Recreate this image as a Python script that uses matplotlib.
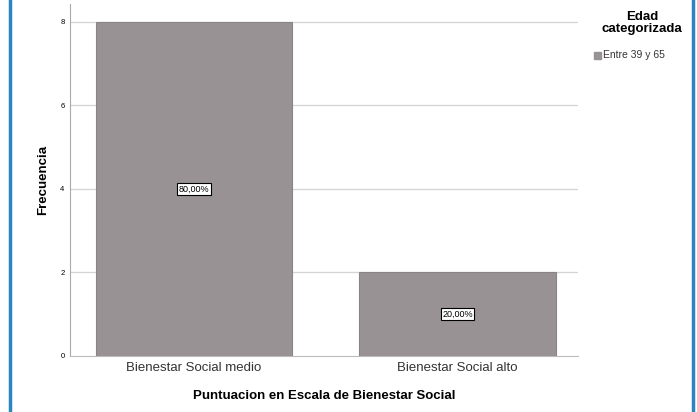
import matplotlib.pyplot as plt
from matplotlib.patches import Rectangle
from matplotlib.lines import Line2D

plt.rcParams['font.family'] = ['Liberation Sans', 'DejaVu Sans']

# Data
categories = ["Bienestar Social medio", "Bienestar Social alto"]
frecuencia = [8, 2]
porcentajes = ["80,00%", "20,00%"]
yticks = [0, 2, 4, 6, 8]

bar_color = "#989294"

fig = plt.figure(figsize=(6.97, 4.12), dpi=100)
ax = fig.add_axes([70/697, 56/412, 508/697, 352/412])

x = range(len(categories))
bars = ax.bar(x, frecuencia, width=0.744, color=bar_color, edgecolor="#8a8486",
              linewidth=0.8, zorder=3)

for xi, v, lab in zip(x, frecuencia, porcentajes):
    ax.text(xi, v / 2, lab, ha="center", va="center", fontsize=6.5, zorder=4,
            bbox=dict(boxstyle="square,pad=0.15", fc="white", ec="black", lw=0.8))

ax.set_xlim(-0.47, 1.457)
ax.set_ylim(0, 8.43)
ax.set_yticks(yticks)
ax.set_yticklabels([str(t) for t in yticks], fontsize=5.5)
ax.set_xticks(list(x))
ax.set_xticklabels(categories, fontsize=9.5, color="#333333")
ax.tick_params(axis="x", length=0, pad=4)
ax.tick_params(axis="y", length=0, pad=4)

for t in yticks[1:]:
    ax.axhline(t, color="#d4d4d4", lw=0.9, zorder=1)

for s in ["top", "right"]:
    ax.spines[s].set_visible(False)
ax.spines["left"].set_color("#aaaaaa")
ax.spines["bottom"].set_color("#bbbbbb")

ax.set_ylabel("Frecuencia", fontsize=9.5, fontweight="bold", labelpad=8)
ax.set_xlabel("Puntuacion en Escala de Bienestar Social", fontsize=9.5,
              fontweight="bold", labelpad=12)

# Legend
fig.text(642/697, 1 - 23/412, "Edad\ncategorizada", ha="center", va="center",
         fontsize=9.5, fontweight="bold", linespacing=0.95)
fig.patches.append(Rectangle((594/697, 1 - 59/412), 7/697, 7/412,
                             transform=fig.transFigure, color=bar_color))
fig.text(603/697, 1 - 55/412, "Entre 39 y 65", ha="left", va="center",
         fontsize=7.5, color="#333333")

# Blue border lines
for xb in [9.5/697, 692.5/697]:
    fig.add_artist(Line2D([xb, xb], [0, 1], transform=fig.transFigure,
                          color="#2b86c0", lw=2.5))

fig.savefig("out.png", dpi=100)
